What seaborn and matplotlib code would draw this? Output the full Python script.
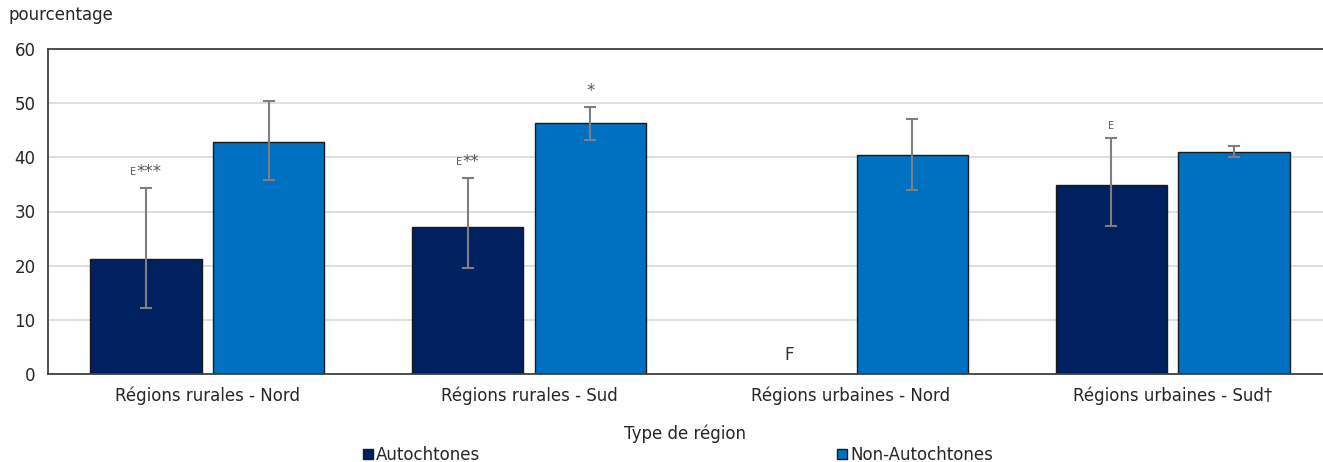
import numpy as np
import pandas as pd
import matplotlib
matplotlib.use("Agg")
import matplotlib.pyplot as plt
import seaborn as sns
from matplotlib.offsetbox import TextArea, HPacker, AnnotationBbox
from matplotlib.patches import Patch

# Data: share (%) by region type, with 95% confidence limits
regions = ["Régions rurales - Nord", "Régions rurales - Sud",
           "Régions urbaines - Nord", "Régions urbaines - Sud†"]
groups = ["Autochtones", "Non-Autochtones"]

autoch_values = [21.2, 27.1, np.nan, 34.9]
autoch_low = [12.2, 19.6, np.nan, 27.3]
autoch_high = [34.3, 36.2, np.nan, 43.6]
autoch_flags = ["E***", "E**", "F", "E"]

non_values = [42.8, 46.3, 40.4, 41.0]
non_low = [35.8, 43.2, 34.0, 40.1]
non_high = [50.4, 49.3, 47.1, 42.1]
non_flags = ["", "*", "", ""]

yticks = [0, 10, 20, 30, 40, 50, 60]
colors = ["#002060", "#0070C0"]

df = pd.DataFrame({
    "region": regions * 2,
    "group": [groups[0]] * 4 + [groups[1]] * 4,
    "value": autoch_values + non_values,
    "low": autoch_low + non_low,
    "high": autoch_high + non_high,
    "flag": autoch_flags + non_flags,
})

sns.set_theme(style="white")
plt.rcParams["font.family"] = ["DejaVu Sans"]
text_color = "#262626"
group_width = 0.762

fig = plt.figure(figsize=(13.23, 4.62), dpi=100)
ax = fig.add_axes([48 / 1323, 1 - 374 / 462, 1 - 48 / 1323, (374 - 49) / 462])

sns.barplot(data=df, x="region", y="value", hue="group", order=regions,
            hue_order=groups, palette=colors, saturation=1,
            width=group_width, gap=0.094,
            edgecolor="#1a1a1a", linewidth=1.0, errorbar=None,
            legend=False, ax=ax, zorder=2)
bar_containers = list(ax.containers)

ax.set_ylim(0, 60)
ax.set_xlim(-0.495, 3.467)
ax.set_yticks(yticks)
ax.grid(axis="y", color="#d9d9d9", linewidth=1.2, zorder=0)
ax.set_axisbelow(True)
ax.spines["right"].set_visible(False)
for side in ["left", "top", "bottom"]:
    ax.spines[side].set_color("#404040")
    ax.spines[side].set_linewidth(1.3)
ax.tick_params(axis="both", length=0, labelsize=12, colors=text_color)
ax.tick_params(axis="y", pad=9)
ax.tick_params(axis="x", pad=9)
ax.set_xlabel("Type de région", fontsize=12, color=text_color, labelpad=14)
ax.set_ylabel("")

# Error bars and quality flags, placed on each drawn bar
annot_color = "#595959"
for hue_idx, container in enumerate(bar_containers):
    sub = df[df["group"] == groups[hue_idx]].reset_index(drop=True)
    for bar in container:
        xc = bar.get_x() + bar.get_width() / 2
        cat = int(round(xc))
        row = sub.iloc[cat]
        if np.isnan(row["value"]):
            continue
        ax.errorbar(xc, row["value"],
                    yerr=[[row["value"] - row["low"]], [row["high"] - row["value"]]],
                    fmt="none", ecolor="#7f7f7f", elinewidth=1.5,
                    capsize=4.5, capthick=1.5, zorder=3)
        flag = row["flag"]
        if flag:
            parts = []
            if flag.startswith("E"):
                parts.append(TextArea("E", textprops=dict(size=7, color=annot_color)))
                flag = flag[1:]
            if flag:
                parts.append(TextArea(flag, textprops=dict(size=12, color=annot_color)))
            box = HPacker(children=parts, align="center", pad=0, sep=0)
            ab = AnnotationBbox(box, (xc, row["high"]), xybox=(0, 5),
                                xycoords="data", boxcoords="offset points",
                                box_alignment=(0.5, 0), frameon=False, pad=0)
            ax.add_artist(ab)

# Suppressed estimate marker
n_groups = len(groups)
slot = group_width / n_groups
for hue_idx, grp in enumerate(groups):
    sub = df[df["group"] == grp].reset_index(drop=True)
    for cat, row in sub.iterrows():
        if np.isnan(row["value"]) and row["flag"] == "F":
            xc = cat - group_width / 2 + slot * (hue_idx + 0.5)
            ax.annotate("F", (xc, 0), xytext=(0, 7), textcoords="offset points",
                        ha="center", va="bottom", fontsize=12, color="#3a2a3a")

fig.text(8 / 1323, 1 - 15 / 462, "pourcentage", fontsize=12, color=text_color,
         ha="left", va="center")

handles = [Patch(facecolor=c, edgecolor="#1a1a1a", linewidth=1.0) for c in colors]
fig.legend(handles, groups, loc="center", bbox_to_anchor=(678 / 1323, 1 - 455 / 462),
           ncol=2, frameon=False, fontsize=12, handlelength=0.6, handleheight=0.6,
           handletextpad=0.2, columnspacing=21.4, labelcolor=text_color)

fig.savefig("out.png", dpi=100)
